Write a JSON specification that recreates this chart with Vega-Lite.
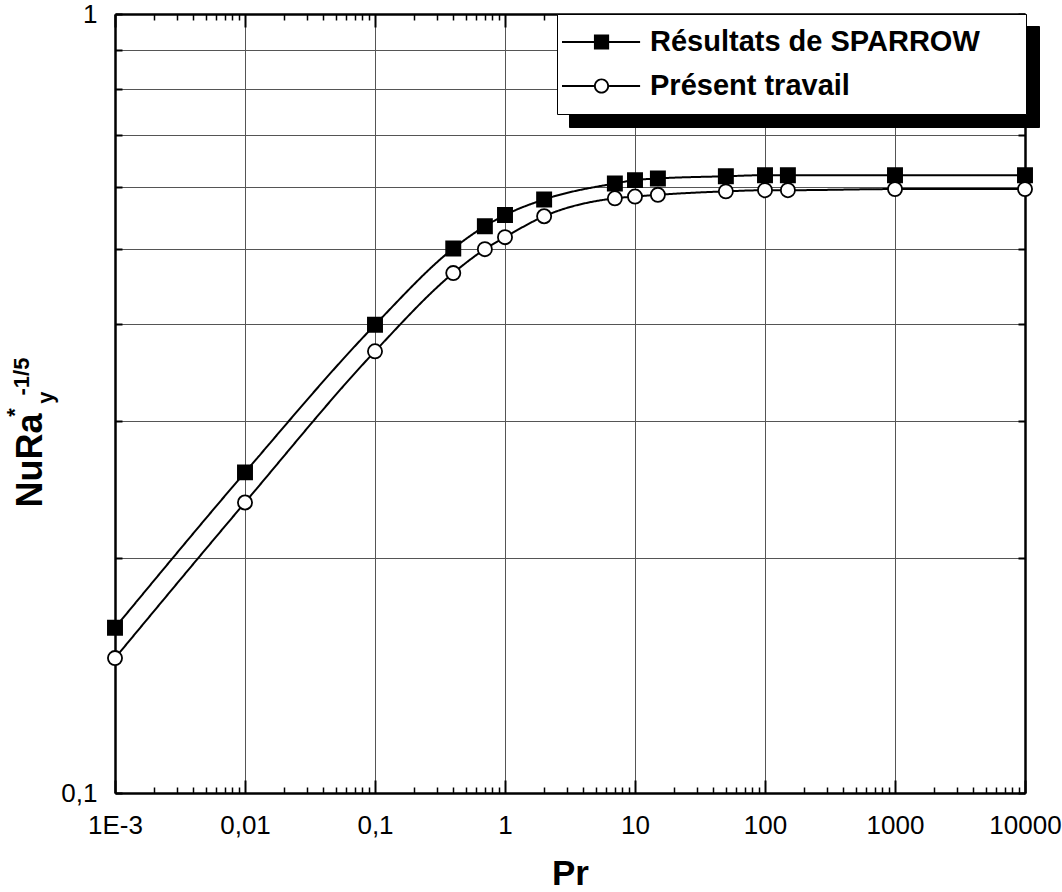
{
  "$schema": "https://vega.github.io/schema/vega-lite/v6.json",
  "width": 910,
  "height": 779,
  "autosize": "none",
  "padding": {"left": 115, "top": 14, "right": 37, "bottom": 99},
  "background": "white",
  "config": {
    "font": "Liberation Sans",
    "view": {"stroke": null},
    "axis": {
      "labelFont": "Liberation Sans",
      "titleFont": "Liberation Sans",
      "labelColor": "black",
      "titleColor": "black",
      "domainColor": "black",
      "tickColor": "black",
      "labelFlush": false,
      "labelOverlap": false,
      "gridColor": "#555555",
      "gridWidth": 1,
      "gridOpacity": 1
    },
    "legend": {"labelFont": "Liberation Sans"}
  },
  "data": {
    "values": [
      {"Pr": 0.001, "Nu": 0.163, "serie": "Résultats de SPARROW"},
      {"Pr": 0.01, "Nu": 0.258, "serie": "Résultats de SPARROW"},
      {"Pr": 0.1, "Nu": 0.399, "serie": "Résultats de SPARROW"},
      {"Pr": 0.4, "Nu": 0.5, "serie": "Résultats de SPARROW"},
      {"Pr": 0.7, "Nu": 0.534, "serie": "Résultats de SPARROW"},
      {"Pr": 1, "Nu": 0.552, "serie": "Résultats de SPARROW"},
      {"Pr": 2, "Nu": 0.578, "serie": "Résultats de SPARROW"},
      {"Pr": 7, "Nu": 0.606, "serie": "Résultats de SPARROW"},
      {"Pr": 10, "Nu": 0.612, "serie": "Résultats de SPARROW"},
      {"Pr": 15, "Nu": 0.615, "serie": "Résultats de SPARROW"},
      {"Pr": 50, "Nu": 0.619, "serie": "Résultats de SPARROW"},
      {"Pr": 100, "Nu": 0.621, "serie": "Résultats de SPARROW"},
      {"Pr": 150, "Nu": 0.621, "serie": "Résultats de SPARROW"},
      {"Pr": 1000, "Nu": 0.621, "serie": "Résultats de SPARROW"},
      {"Pr": 10000, "Nu": 0.621, "serie": "Résultats de SPARROW"},
      {"Pr": 0.001, "Nu": 0.149, "serie": "Présent travail"},
      {"Pr": 0.01, "Nu": 0.236, "serie": "Présent travail"},
      {"Pr": 0.1, "Nu": 0.369, "serie": "Présent travail"},
      {"Pr": 0.4, "Nu": 0.465, "serie": "Présent travail"},
      {"Pr": 0.7, "Nu": 0.499, "serie": "Présent travail"},
      {"Pr": 1, "Nu": 0.517, "serie": "Présent travail"},
      {"Pr": 2, "Nu": 0.55, "serie": "Présent travail"},
      {"Pr": 7, "Nu": 0.58, "serie": "Présent travail"},
      {"Pr": 10, "Nu": 0.583, "serie": "Présent travail"},
      {"Pr": 15, "Nu": 0.586, "serie": "Présent travail"},
      {"Pr": 50, "Nu": 0.592, "serie": "Présent travail"},
      {"Pr": 100, "Nu": 0.594, "serie": "Présent travail"},
      {"Pr": 150, "Nu": 0.594, "serie": "Présent travail"},
      {"Pr": 1000, "Nu": 0.596, "serie": "Présent travail"},
      {"Pr": 10000, "Nu": 0.596, "serie": "Présent travail"}
    ]
  },
  "resolve": {
    "scale": {"shape": "independent"},
    "axis": {"x": "independent", "y": "independent"}
  },
  "layer": [
    {
      "mark": {"type": "line", "interpolate": "monotone", "color": "black", "strokeWidth": 2},
      "encoding": {
        "x": {
          "field": "Pr", "type": "quantitative",
          "scale": {"type": "log", "domain": [0.001, 10000], "nice": false},
          "axis": {
            "orient": "bottom",
            "values": [0.001, 0.01, 0.1, 1, 10, 100, 1000, 10000],
            "tickSize": -13, "tickWidth": 2, "domainWidth": 2.5,
            "labelExpr": "datum.value < 0.002 ? '1E-3' : datum.value < 0.02 ? '0,01' : datum.value < 0.2 ? '0,1' : format(datum.value, 'd')",
            "labelFontSize": 26, "labelPadding": 32,
            "grid": true,
            "title": "Pr", "titleFontSize": 35, "titleFontWeight": "bold",
            "titleX": 455, "titleY": 91, "titleAlign": "center", "titleBaseline": "alphabetic"
          }
        },
        "y": {
          "field": "Nu", "type": "quantitative",
          "scale": {"type": "log", "domain": [0.1, 1], "nice": false},
          "axis": {
            "orient": "left",
            "values": [0.1, 0.2, 0.3, 0.4, 0.5, 0.6, 0.7, 0.8, 0.9, 1],
            "tickSize": -7, "tickWidth": 2, "domainWidth": 2.5,
            "labelExpr": "datum.value < 0.15 ? '0,1' : datum.value > 0.95 ? '1' : ''",
            "labelFontSize": 26, "labelPadding": 25,
            "grid": true,
            "title": "NuRa", "titleFontSize": 36, "titleFontWeight": "bold",
            "titleX": -74, "titleY": 446, "titleAngle": -90, "titleAlign": "center", "titleBaseline": "alphabetic"
          }
        },
        "strokeDash": {
          "field": "serie", "type": "nominal",
          "scale": {"domain": ["Présent travail", "Résultats de SPARROW"], "range": [[1, 0], [1, 0]]},
          "legend": {
            "orient": "none", "legendX": 454, "legendY": 12, "title": null,
            "fillColor": "black", "strokeColor": "black",
            "padding": 9, "rowPadding": 1,
            "symbolSize": 1444,
            "symbolType": "M0,-1.25M0,1M-1.21,0M22.7,0M-1.21,-0.4H2.9V0.4H-1.21Z",
            "symbolOpacity": 0,
            "labelOffset": 46, "labelFontSize": 29, "labelFontWeight": "bold",
            "labelColor": "black", "labelLimit": 1000,
            "labelExpr": "''",
            "zindex": 2
          }
        }
      }
    },
    {
      "mark": {"type": "point", "filled": true, "size": 200, "stroke": "black", "strokeWidth": 1.8, "opacity": 1},
      "encoding": {
        "x": {
          "field": "Pr", "type": "quantitative",
          "scale": {"type": "log", "domain": [0.001, 10000], "nice": false},
          "axis": {
            "orient": "top",
            "values": [0.001, 0.01, 0.1, 1, 10, 100, 1000, 10000],
            "tickSize": -13, "tickWidth": 2, "domainWidth": 2.5,
            "labels": false, "grid": false, "title": null
          }
        },
        "y": {
          "field": "Nu", "type": "quantitative",
          "scale": {"type": "log", "domain": [0.1, 1], "nice": false},
          "axis": {
            "orient": "right",
            "values": [0.1, 0.2, 0.3, 0.4, 0.5, 0.6, 0.7, 0.8, 0.9, 1],
            "tickSize": -7, "tickWidth": 2, "domainWidth": 2.5,
            "labels": false, "grid": false, "title": null
          }
        },
        "shape": {
          "field": "serie", "type": "nominal",
          "scale": {"domain": ["Résultats de SPARROW", "Présent travail"], "range": ["square", "circle"]},
          "legend": null
        },
        "fill": {
          "field": "serie", "type": "nominal",
          "scale": {"domain": ["Résultats de SPARROW", "Présent travail"], "range": ["black", "white"]},
          "legend": null
        }
      }
    },
    {
      "mark": {"type": "point", "opacity": 0},
      "encoding": {
        "x": {
          "field": "Pr", "type": "quantitative",
          "scale": {"type": "log", "domain": [0.001, 10000], "nice": false},
          "axis": {
            "orient": "bottom",
            "values": [0.002, 0.003, 0.004, 0.005, 0.006, 0.007, 0.008, 0.009, 0.02, 0.03, 0.04, 0.05, 0.06, 0.07, 0.08, 0.09, 0.2, 0.3, 0.4, 0.5, 0.6, 0.7, 0.8, 0.9, 2, 3, 4, 5, 6, 7, 8, 9, 20, 30, 40, 50, 60, 70, 80, 90, 200, 300, 400, 500, 600, 700, 800, 900, 2000, 3000, 4000, 5000, 6000, 7000, 8000, 9000],
            "tickSize": -6, "tickWidth": 1.5,
            "labels": false, "domain": false, "grid": false, "title": null
          }
        },
        "y": {
          "field": "Nu", "type": "quantitative",
          "scale": {"type": "log", "domain": [0.1, 1], "nice": false},
          "axis": {
            "orient": "left", "ticks": false, "labels": false, "domain": false, "grid": false,
            "title": "y", "titleFontSize": 22, "titleFontWeight": "bold",
            "titleX": -63, "titleY": 383, "titleAngle": -90, "titleAlign": "center", "titleBaseline": "alphabetic"
          }
        }
      }
    },
    {
      "mark": {"type": "point", "opacity": 0},
      "encoding": {
        "x": {
          "field": "Pr", "type": "quantitative",
          "scale": {"type": "log", "domain": [0.001, 10000], "nice": false},
          "axis": {
            "orient": "top",
            "values": [0.002, 0.003, 0.004, 0.005, 0.006, 0.007, 0.008, 0.009, 0.02, 0.03, 0.04, 0.05, 0.06, 0.07, 0.08, 0.09, 0.2, 0.3, 0.4, 0.5, 0.6, 0.7, 0.8, 0.9, 2, 3, 4, 5, 6, 7, 8, 9, 20, 30, 40, 50, 60, 70, 80, 90, 200, 300, 400, 500, 600, 700, 800, 900, 2000, 3000, 4000, 5000, 6000, 7000, 8000, 9000],
            "tickSize": -6, "tickWidth": 1.5,
            "labels": false, "domain": false, "grid": false, "title": null
          }
        },
        "y": {
          "field": "Nu", "type": "quantitative",
          "scale": {"type": "log", "domain": [0.1, 1], "nice": false},
          "axis": {
            "orient": "left", "ticks": false, "labels": false, "domain": false, "grid": false,
            "title": "*", "titleFontSize": 22, "titleFontWeight": "bold",
            "titleX": -94, "titleY": 398, "titleAngle": -90, "titleAlign": "center", "titleBaseline": "alphabetic"
          }
        }
      }
    },
    {
      "transform": [{"filter": "datum.Pr < 0"}],
      "mark": {"type": "point", "filled": true, "fill": "black", "stroke": "black", "strokeWidth": 0},
      "encoding": {
        "x": {
          "field": "Pr", "type": "quantitative",
          "scale": {"type": "log", "domain": [0.001, 10000], "nice": false},
          "axis": null
        },
        "y": {
          "field": "Nu", "type": "quantitative",
          "scale": {"type": "log", "domain": [0.1, 1], "nice": false},
          "axis": {
            "orient": "left", "ticks": false, "labels": false, "domain": false, "grid": false,
            "title": "-1/5", "titleFontSize": 22, "titleFontWeight": "bold",
            "titleX": -87, "titleY": 362, "titleAngle": -90, "titleAlign": "center", "titleBaseline": "alphabetic"
          }
        },
        "shape": {
          "field": "serie", "type": "nominal",
          "scale": {
            "domain": ["Résultats de SPARROW", "Présent travail"],
            "range": [
              "M0,-1.25M0,1M-1.21,-0.055H0.47V0.055H-1.21ZM1.27,-0.055H2.9V0.055H1.27ZM0.47,-0.4H1.27V0.4H0.47ZM22.7,0",
              "M0,-1.25M0,1M-1.21,-0.055H0.47V0.055H-1.21ZM1.27,-0.055H2.9V0.055H1.27ZM1.27,0A0.4,0.4,0,1,1,0.47,0A0.4,0.4,0,1,1,1.27,0ZM1.17,0A0.3,0.3,0,1,0,0.57,0A0.3,0.3,0,1,0,1.17,0ZM22.7,0"
            ]
          },
          "legend": {
            "orient": "none", "legendX": 442, "legendY": 0, "title": null,
            "fillColor": "white", "strokeColor": "black",
            "padding": 9, "rowPadding": 1,
            "symbolSize": 1444, "symbolOpacity": 1,
            "symbolFillColor": "black", "symbolStrokeWidth": 0,
            "labelOffset": 46, "labelFontSize": 29, "labelFontWeight": "bold",
            "labelColor": "black", "labelLimit": 1000,
            "zindex": 3,
            "encode": {"legend": {"strokeWidth": {"value": 2}}}
          }
        }
      }
    }
  ]
}
